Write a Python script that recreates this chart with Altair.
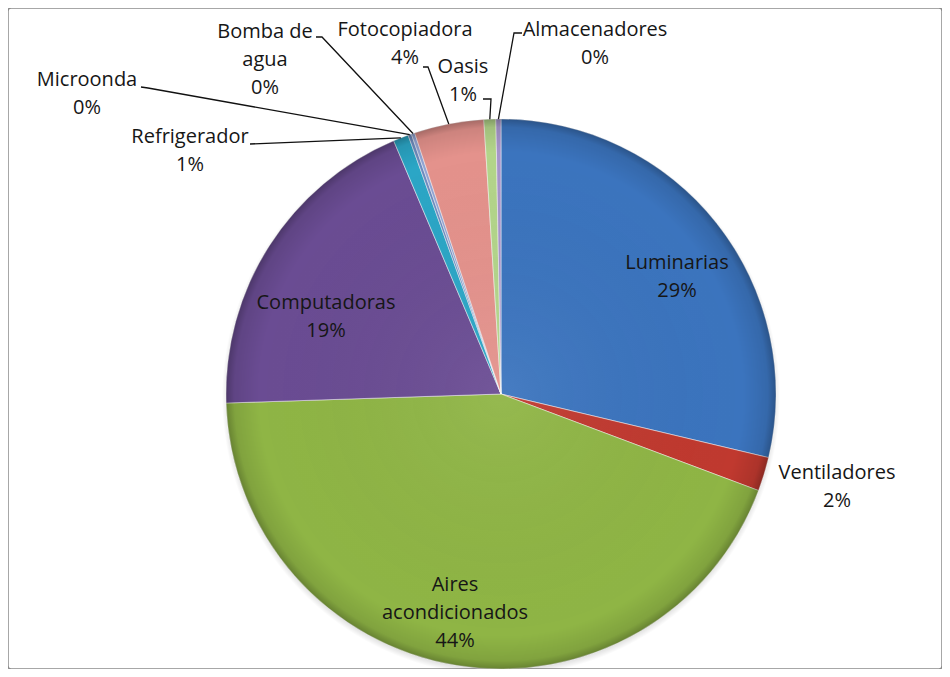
import math
import altair as alt
import pandas as pd

# ---- data ----
categories = ["Luminarias", "Ventiladores", "Aires acondicionados", "Computadoras",
              "Refrigerador", "Microonda", "Bomba de agua", "Fotocopiadora",
              "Oasis", "Almacenadores"]
values = [28.8, 2.0, 43.9, 19.2, 0.9, 0.2, 0.2, 4.1, 0.7, 0.3]
label_names = ["Luminarias", "Ventiladores", "Aires\nacondicionados", "Computadoras",
               "Refrigerador", "Microonda", "Bomba de\nagua", "Fotocopiadora",
               "Oasis", "Almacenadores"]

# ---- styles / layout ----
colors = ["#3B74BE", "#C0392F", "#8FB545", "#6A4C93", "#2BA6C6",
          "#6F8CC0", "#93A5D4", "#E4928C", "#B3D58A", "#A695CB"]
W, H = 934, 661
CX, CY, R = 493, 386, 275
# position of the first text line of each label
label_xy = [(669, 255), (829, 465), (447, 577), (318, 295), (182, 129),
            (79, 72), (257, 24), (397, 22), (455, 59), (587, 22)]
# leader-line starting points near the labels (index -> points)
leader_start = {
    4: [(242, 136)],
    5: [(133, 79), (140, 80)],
    6: [(308, 29), (314, 29)],
    7: [(415, 59), (420, 59)],
    8: [(475, 91), (483, 91)],
    9: [(514, 25), (506, 25)],
}

total = sum(values)
pcts = [int(math.floor(v / total * 100 + 0.5)) for v in values]
labels = [f"{n}\n{p}%" for n, p in zip(label_names, pcts)]

df = pd.DataFrame({
    "idx": list(range(len(categories))),
    "cat": categories,
    "value": values,
    "label": labels,
    "lx": [p[0] for p in label_xy],
    "ly": [p[1] for p in label_xy],
})

# leader lines: from label to the outer edge of the slice at its mid angle
rows = []
cum = 0.0
mids = []
for v in values:
    mids.append((cum + v / 2) / total * 2 * math.pi)
    cum += v
for i, pts in leader_start.items():
    k = 0
    for (px, py) in pts:
        rows.append({"key": categories[i], "ord": k, "px": px, "py": py})
        k += 1
    a = mids[i]
    rows.append({"key": categories[i], "ord": k,
                 "px": CX + R * math.sin(a), "py": CY - R * math.cos(a)})
lines_df = pd.DataFrame(rows)

one = pd.DataFrame({"a": [0]})

shadow = alt.Chart(one).mark_arc(
    radius=R + 4, theta=0, theta2=2 * math.pi,
    fill={"gradient": "radial", "x1": 0.5, "y1": 0.5, "x2": 0.5, "y2": 0.5,
          "r1": 0, "r2": 0.5,
          "stops": [{"offset": 0, "color": "rgba(0,0,0,0.25)"},
                    {"offset": 0.95, "color": "rgba(0,0,0,0.25)"},
                    {"offset": 1, "color": "rgba(0,0,0,0)"}]},
).encode(x=alt.value(CX), y=alt.value(CY + 3))

pie = alt.Chart(df).mark_arc(
    radius=R, stroke="white", strokeWidth=0.8, strokeOpacity=0.6
).encode(
    theta=alt.Theta("value:Q", stack=True),
    color=alt.Color("cat:N", scale=alt.Scale(domain=categories, range=colors), legend=None),
    order=alt.Order("idx:Q"),
    x=alt.value(CX), y=alt.value(CY),
)

shade = alt.Chart(one).mark_arc(
    radius=R, theta=0, theta2=2 * math.pi,
    fill={"gradient": "radial", "x1": 0.5, "y1": 0.5, "x2": 0.5, "y2": 0.5,
          "r1": 0, "r2": 0.5,
          "stops": [{"offset": 0, "color": "rgba(255,255,255,0.06)"},
                    {"offset": 0.88, "color": "rgba(0,0,0,0)"},
                    {"offset": 0.97, "color": "rgba(0,0,0,0.10)"},
                    {"offset": 1, "color": "rgba(0,0,0,0.28)"}]},
).encode(x=alt.value(CX), y=alt.value(CY))

leaders = alt.Chart(lines_df).mark_line(color="#111111", strokeWidth=1.3).encode(
    x=alt.X("px:Q", scale=None, axis=None),
    y=alt.Y("py:Q", scale=None, axis=None),
    detail="key:N",
    order="ord:Q",
)

text = alt.Chart(df).mark_text(
    font="Open Sans", fontSize=20, lineBreak="\n", lineHeight=28,
    align="center", baseline="middle", color="#161616",
).encode(
    x=alt.X("lx:Q", scale=None, axis=None),
    y=alt.Y("ly:Q", scale=None, axis=None),
    text="label:N",
)

chart = alt.layer(shadow, pie, shade, leaders, text).properties(
    width=W, height=H, padding=0, autosize="none", background="white"
).configure_view(stroke="#8A8A8A", strokeWidth=1.5, cornerRadius=3)

chart.save("out.html", embed_options={"renderer": "svg", "actions": False})
